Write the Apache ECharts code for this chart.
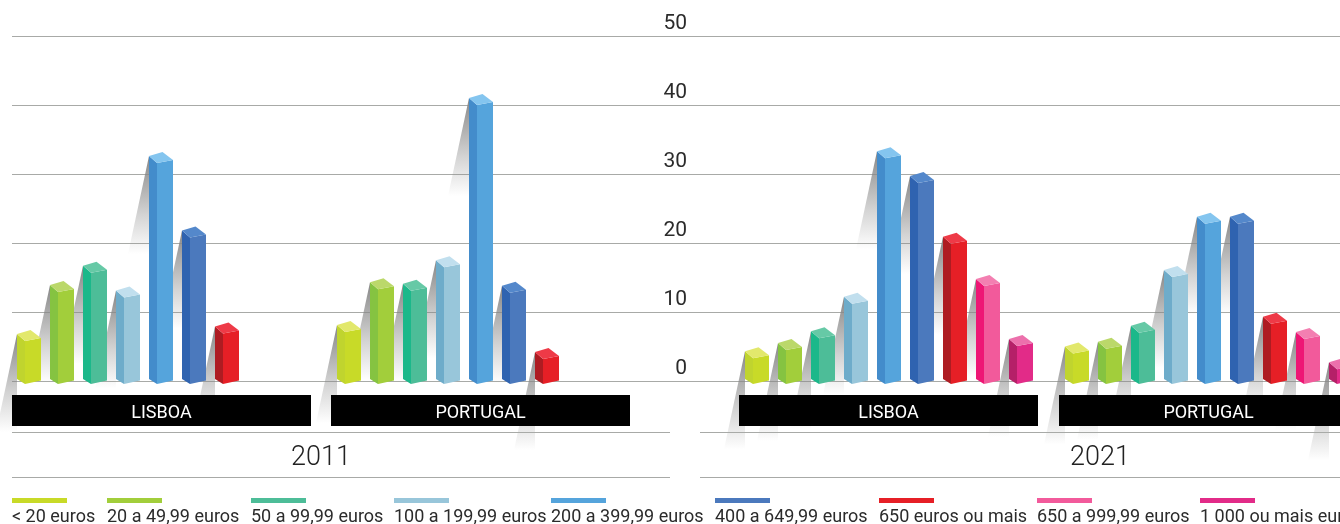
<!DOCTYPE html>
<html>
<head>
<meta charset="utf-8">
<title>Rendas</title>
<script src="https://cdn.jsdelivr.net/npm/echarts@6/dist/echarts.min.js"></script>
<style>
  html, body { margin: 0; padding: 0; background: #fff; }
  #chart { width: 1340px; height: 524px; overflow: hidden; }
</style>
</head>
<body>
<div id="chart"></div>
<script>
const categories = [
  "< 20 euros",
  "20 a 49,99 euros",
  "50 a 99,99 euros",
  "100 a 199,99 euros",
  "200 a 399,99 euros",
  "400 a 649,99 euros",
  "650 euros ou mais",
  "650 a 999,99 euros",
  "1 000 ou mais euros"
];
const lisboa2011 = [6.8, 13.9, 16.7, 13.1, 32.6, 21.8, 7.9];
const portugal2011 = [8.1, 14.3, 14.1, 17.5, 41, 13.8, 4.2];
const lisboa2021 = [4.3, 5.5, 7.2, 12.2, 33.3, 29.7, 20.9, 14.8, 6.1];
const portugal2021 = [5, 5.7, 8, 16.1, 23.8, 23.8, 9.3, 7.1, 2.7];
const panelNames = ["LISBOA", "PORTUGAL", "LISBOA", "PORTUGAL"];
const years = ["2011", "2021"];

// right face, left face, top face
const faceColors = [
  ["#c8da28", "#c0d42e", "#e2e86c"],
  ["#a2ce3b", "#85c341", "#bbd86a"],
  ["#4dbd98", "#1bb88a", "#66c9a6"],
  ["#98c6da", "#6eacca", "#c1dfee"],
  ["#55a4dc", "#438ccb", "#84c5ef"],
  ["#4b79bd", "#2f63b0", "#5488cb"],
  ["#e61f26", "#ae1c22", "#ee3a47"],
  ["#f25a9b", "#ee1675", "#f37fb1"],
  ["#e22b88", "#b52068", "#ec70ac"]
];
const lineColor = "#a8aaa7";
const fontName = "Roboto";
const panelLeft = [12.5, 332.5, 740.5, 1060.5];
const blackLeft = [12, 331, 739, 1059];
const legendLeft = [12, 107, 251, 394, 551, 715, 879, 1037, 1200];

function renderShadow(params, api) {
  let x = api.coord([api.value(0), 0])[0] - 12,
    t = api.coord([api.value(0), api.value(1)])[1];
  return {
    type: "polygon",
    shape: { points: [[x, t], [x, t + 98], [x - 21, t + 98]] },
    style: {
      fill: new echarts.graphic.LinearGradient(0, 0, 0, 1, [
        { offset: 0, color: "rgba(135,135,135,1)" },
        { offset: 0.6, color: "rgba(135,135,135,0.36)" },
        { offset: 1, color: "rgba(135,135,135,0)" }
      ])
    }
  };
}

function renderBar(params, api) {
  let i = api.value(0),
    c = api.coord([i, 0])[0],
    b = api.coord([i, 0])[1],
    t = api.coord([i, api.value(1)])[1],
    xl = c - 12,
    xf = c - 4,
    xr = c + 12,
    xb = c + 1.5,
    col = faceColors[i];
  return {
    type: "group",
    children: [
      {
        type: "polygon",
        shape: { points: [[xl, t], [xf, t + 7], [xf, b + 3], [xl, b - 2]] },
        style: { fill: col[1] }
      },
      {
        type: "polygon",
        shape: { points: [[xf, t + 7], [xr, t + 4], [xr, b - 0.5], [xf, b + 3]] },
        style: { fill: col[0] }
      },
      {
        type: "polygon",
        shape: { points: [[xl, t], [xb, t - 4], [xr, t + 4], [xf, t + 7]] },
        style: { fill: col[2] }
      }
    ]
  };
}

function buildChart(container) {
  let myChart = echarts.init(container),
    panels = [lisboa2011, portugal2011, lisboa2021, portugal2021],
    grids = [{ left: 12, right: 0, top: 36, height: 345, outerBoundsMode: "none" }],
    xAxes = [{ type: "category", gridIndex: 0, show: false, data: categories }],
    yAxes = [
      {
        type: "value",
        gridIndex: 0,
        min: 0,
        max: 50,
        interval: 10,
        position: "left",
        axisLine: { show: false },
        axisTick: { show: false },
        splitLine: { show: true, lineStyle: { color: lineColor, width: 1 } },
        axisLabel: {
          show: true,
          inside: true,
          margin: 675,
          align: "right",
          verticalAlign: "bottom",
          padding: [0, 0, 2, 0],
          color: "#2b2b2b",
          fontFamily: fontName,
          fontSize: 21
        }
      }
    ],
    series = [],
    graphics = [];

  panels.forEach(function (values, p) {
    grids.push({ left: panelLeft[p], width: 297, top: 36, height: 345, outerBoundsMode: "none" });
    xAxes.push({ type: "category", gridIndex: p + 1, show: false, data: categories });
    yAxes.push({ type: "value", gridIndex: p + 1, show: false, min: 0, max: 50, splitLine: { show: false } });
    let data = values.map(function (v, i) {
      return [i, v];
    });
    series.push({
      type: "custom",
      name: panelNames[p] + " shadow",
      xAxisIndex: p + 1,
      yAxisIndex: p + 1,
      z: 3,
      silent: true,
      renderItem: renderShadow,
      data: data
    });
    series.push({
      type: "custom",
      name: panelNames[p],
      xAxisIndex: p + 1,
      yAxisIndex: p + 1,
      z: 10,
      renderItem: renderBar,
      data: data
    });
    graphics.push({
      type: "rect",
      z: 5,
      shape: { x: blackLeft[p], y: 395, width: 299, height: 31 },
      style: { fill: "#000" }
    });
    graphics.push({
      type: "text",
      z: 6,
      x: blackLeft[p] + 149.5,
      y: 413,
      style: {
        text: panelNames[p],
        fill: "#fff",
        font: "18px " + fontName,
        align: "center",
        verticalAlign: "middle"
      }
    });
  });

  // lines round the year row
  [[12, 670], [700, 1340]].forEach(function (ends, k) {
    [432.5, 477.5].forEach(function (y) {
      graphics.push({
        type: "line",
        z: 4,
        shape: { x1: ends[0], y1: y, x2: ends[1], y2: y },
        style: { stroke: lineColor, lineWidth: 1 }
      });
    });
    graphics.push({
      type: "text",
      z: 6,
      x: k === 0 ? 321 : 1100,
      y: 458,
      style: {
        text: years[k],
        fill: "#222",
        font: "300 27px " + fontName,
        align: "center",
        verticalAlign: "middle"
      }
    });
  });

  // legend, swatch over its text
  categories.forEach(function (name, i) {
    graphics.push({
      type: "rect",
      z: 6,
      shape: { x: legendLeft[i], y: 498, width: 55, height: 5 },
      style: { fill: faceColors[i][0] }
    });
    graphics.push({
      type: "text",
      z: 6,
      x: legendLeft[i],
      y: 517,
      style: {
        text: name,
        fill: "#2b2b2b",
        font: "18px " + fontName,
        align: "left",
        verticalAlign: "middle"
      }
    });
  });

  myChart.setOption({
    animation: false,
    backgroundColor: "#fff",
    grid: grids,
    xAxis: xAxes,
    yAxis: yAxes,
    series: series,
    graphic: { elements: graphics }
  });
}

buildChart(document.getElementById("chart"));
</script>
</body>
</html>
